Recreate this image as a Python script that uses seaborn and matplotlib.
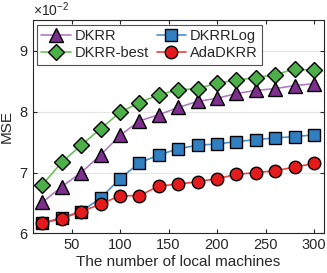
import numpy as np
import pandas as pd
import matplotlib
matplotlib.use('Agg')
import matplotlib.pyplot as plt
import seaborn as sns

# ── Data (MSE in units of 1e-2) ───────────────────────────────────────────────
machines = [20, 40, 60, 80, 100, 120, 140, 160, 180, 200, 220, 240, 260, 280, 300]
dkrr      = [6.51, 6.77, 7.00, 7.29, 7.61, 7.85, 7.95, 8.07, 8.17, 8.22, 8.30, 8.35, 8.38, 8.43, 8.46]
dkrr_best = [6.80, 7.17, 7.45, 7.72, 7.99, 8.15, 8.28, 8.36, 8.38, 8.47, 8.52, 8.56, 8.61, 8.70, 8.68]
dkrr_log  = [6.17, 6.26, 6.36, 6.58, 6.90, 7.16, 7.29, 7.39, 7.45, 7.47, 7.51, 7.54, 7.57, 7.59, 7.62]
ada_dkrr  = [6.17, 6.24, 6.36, 6.48, 6.62, 6.62, 6.78, 6.81, 6.85, 6.90, 6.97, 7.00, 7.03, 7.09, 7.15]

methods = ['DKRR', 'DKRR-best', 'DKRRLog', 'AdaDKRR']
series = [dkrr, dkrr_best, dkrr_log, ada_dkrr]

df = pd.concat([pd.DataFrame({'machines': machines, 'mse': s, 'method': m})
                for m, s in zip(methods, series)], ignore_index=True)

# ── Style ─────────────────────────────────────────────────────────────────────
sns.set_style("ticks")
plt.rcParams['font.family'] = ['Liberation Sans', 'DejaVu Sans']
plt.rcParams['xtick.direction'] = 'in'
plt.rcParams['ytick.direction'] = 'in'
plt.rcParams['mathtext.fontset'] = 'custom'
plt.rcParams['mathtext.rm'] = 'Liberation Sans'

line_colors = {'DKRR': '#B07CC6', 'DKRR-best': '#6CC25A', 'DKRRLog': '#4A90D0', 'AdaDKRR': '#F2403A'}
face_colors = {'DKRR': '#7E2F8E', 'DKRR-best': '#4DAF4A', 'DKRRLog': '#2F7FC1', 'AdaDKRR': '#E41A1C'}
markers = {'DKRR': '^', 'DKRR-best': 'D', 'DKRRLog': 's', 'AdaDKRR': 'o'}
sizes = {'DKRR': 10, 'DKRR-best': 8, 'DKRRLog': 8.5, 'AdaDKRR': 9}

fig, ax = plt.subplots(figsize=(3.27, 2.73), dpi=100)

for m in methods:
    sub = df[df['method'] == m]
    sns.lineplot(data=sub, x='machines', y='mse', ax=ax, color=line_colors[m],
                 marker=markers[m], markersize=sizes[m], markerfacecolor=face_colors[m],
                 markeredgecolor='black', markeredgewidth=1.0, linewidth=1.2, label=m)

ax.set_xlim(10, 310)
ax.set_ylim(6, 9.5)
ax.set_xticks([50, 100, 150, 200, 250, 300])
ax.set_yticks([6, 7, 8, 9])
ax.yaxis.grid(True, color='#E6E6E6', linewidth=0.8)
ax.set_axisbelow(True)
for sp in ax.spines.values():
    sp.set_visible(True)
    sp.set_color('#262626')
    sp.set_linewidth(0.8)
ax.tick_params(labelsize=10.5, colors='#262626', length=3, top=True, right=True)

ax.set_xlabel('The number of local machines', fontsize=11, color='#262626', labelpad=2)
ax.set_ylabel('MSE', fontsize=11, color='#262626', labelpad=4)
ax.text(0.0, 1.005, r'$\times\mathrm{10}^{\mathrm{-2}}$', transform=ax.transAxes, fontsize=10,
        color='#262626', ha='left', va='bottom')

leg = ax.legend(loc='upper left', ncol=2, fontsize=10.5, frameon=True, fancybox=False,
                edgecolor='#262626', borderpad=0.3, labelspacing=0.2, handlelength=2.0,
                handletextpad=0.3, columnspacing=0.5, borderaxespad=0.3)
leg.get_frame().set_linewidth(0.8)

plt.subplots_adjust(left=0.1, right=0.99, top=0.925, bottom=0.145)
plt.savefig('out.png', dpi=100)
